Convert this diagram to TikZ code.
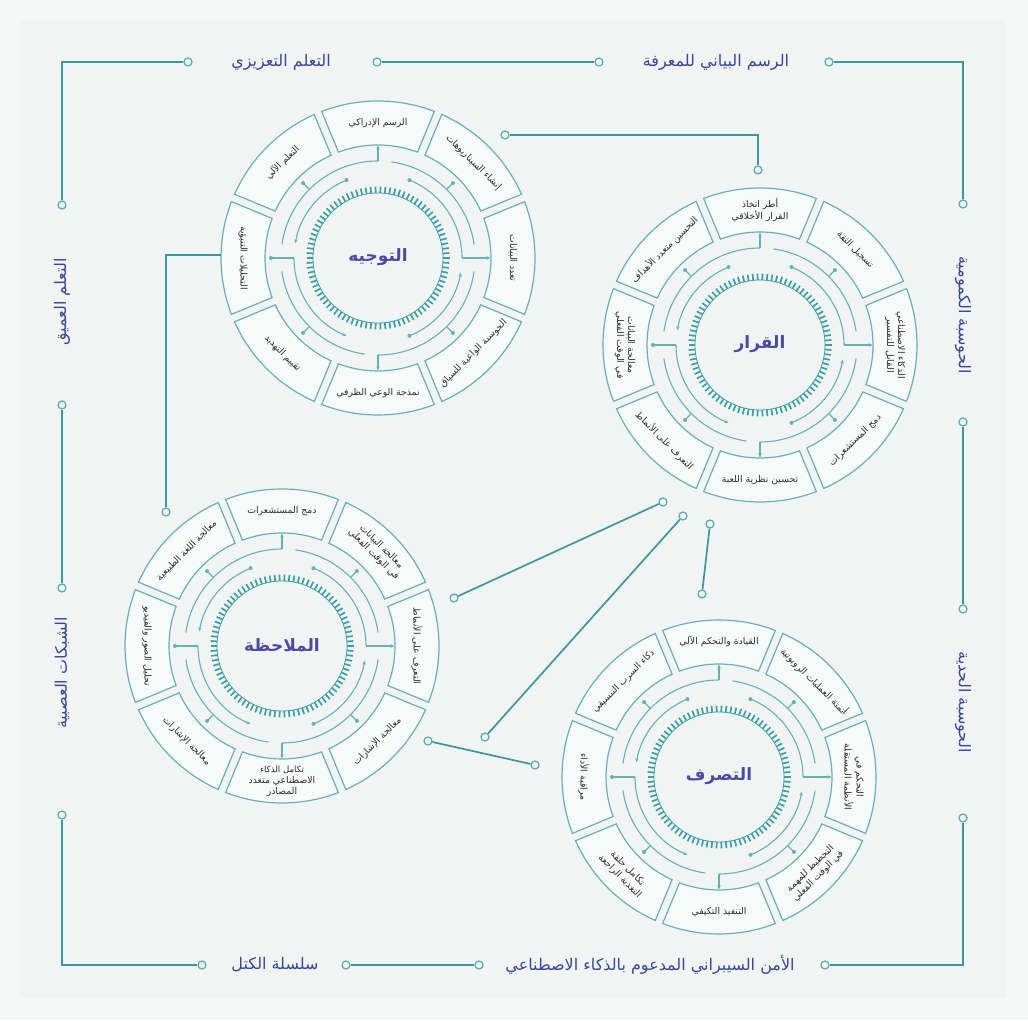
\documentclass[tikz,border=0pt]{standalone}
\usepackage{fontspec}
\usetikzlibrary{arrows.meta,calc}
\newfontfamily\arabicfont[Script=Arabic]{DejaVu Sans}
\TeXXeTstate=1
\newcommand\ar[1]{{\arabicfont\beginR #1\endR}}
\definecolor{bgout}{HTML}{F6F7F7}
\definecolor{bgin}{HTML}{F2F4F4}
\definecolor{frameteal}{HTML}{3B96A0}
\definecolor{dotteal}{HTML}{5EAEB6}
\definecolor{wheel}{HTML}{64B1B9}
\definecolor{gearc}{HTML}{3A9EA8}
\definecolor{sidetext}{HTML}{35479A}
\definecolor{titletext}{HTML}{4A4CA2}
\definecolor{boxtext}{HTML}{2E2E2E}
\tikzset{
  frame/.style={draw=frameteal, line width=1.9pt},
  link/.style={draw=frameteal, line width=1.7pt},
  jdot/.style={circle, draw=dotteal, line width=1.3pt, fill=bgin, minimum size=8pt, inner sep=0pt},
  side/.style={font=\fontsize{16}{18}\selectfont, text=sidetext, inner sep=1pt},
  boxs/.style={draw=wheel, line width=1.2pt, fill=white!45!bgin},
  wline/.style={draw=wheel, line width=1.1pt},
  warrow/.style={wline, -{Stealth[length=4pt,width=3.5pt]}},
  blabel/.style={font=\fontsize{9.3}{11}\selectfont, text=boxtext, align=center, inner sep=0pt},
  blabelm/.style={font=\fontsize{8.8}{10}\selectfont, text=boxtext, align=center, inner sep=0pt},
  wtitle/.style={font=\fontsize{17}{19}\selectfont\bfseries, text=titletext, inner sep=0pt},
}
\newcommand\wheel[9]{%
  \foreach \k in {0,...,7} {%
    \pgfmathsetmacro\th{90-45*\k}%
    \pgfmathsetmacro\aoA{\th+21.04}%
    \pgfmathsetmacro\aoB{\th-21.04}%
    \pgfmathsetmacro\aiA{\th+20.47}%
    \pgfmathsetmacro\aiB{\th-20.47}%
    \draw[boxs] (\aoA:157) arc[start angle=\aoA, end angle=\aoB, radius=157]
      -- (\aiB:113) arc[start angle=\aiB, end angle=\aiA, radius=113] -- cycle;
  }
  % middle arcs
  \draw[wline] (90:97) arc[start angle=90,end angle=172,radius=97];
  \draw[wline] (188:97) arc[start angle=188,end angle=262,radius=97];
  \draw[wline] (270:97) arc[start angle=270,end angle=352,radius=97];
  \draw[wline] (8:97) arc[start angle=8,end angle=82,radius=97];
  % radial connectors
  \draw[warrow] (90:97) -- (90:112.5);
  \draw[warrow] (270:97) -- (270:112.5);
  \draw[warrow] (0:84) -- (0:112.5);
  \draw[wline] (180:84) -- (180:107);
  \fill[wheel] (180:107) circle (2);
  \foreach \a in {45,135,225,315} {%
    \draw[wline] (\a:97) -- (\a:106);
    \fill[wheel] (\a:106) circle (2);
  }
  % inner arcs
  \draw[wline] (0:84) arc[start angle=0,end angle=68,radius=84];
  \fill[wheel] (68:84) circle (2);
  \draw[warrow] (112:84) arc[start angle=112,end angle=170,radius=84];
  \fill[wheel] (112:84) circle (2);
  \draw[warrow] (180:84) arc[start angle=180,end angle=248,radius=84];
  \draw[warrow] (292:84) arc[start angle=292,end angle=350,radius=84];
  \fill[wheel] (292:84) circle (2);
  % gear
  \draw[draw=gearc, line width=0.8pt] (0,0) circle (65);
  \foreach \a in {0,4,...,356} {\draw[draw=gearc, line width=1.7pt] (\a:65) -- (\a:71.5);}
  % title and labels
  \node[wtitle] (\pfx-t) at (0,1) {\ar{#1}};
  \node[blabel, rotate=0] (\pfx-l0) at (90:135) {#2};
  \node[blabel, rotate=-45] (\pfx-l1) at (45:135) {#3};
  \node[blabel, rotate=-90] (\pfx-l2) at (0:135) {#4};
  \node[blabel, rotate=45] (\pfx-l3) at (-45:135) {#5};
  \node[blabel, rotate=0] (\pfx-l4) at (-90:135) {#6};
  \node[blabel, rotate=-45] (\pfx-l5) at (-135:135) {#7};
  \node[blabel, rotate=-90] (\pfx-l6) at (180:135) {#8};
  \node[blabel, rotate=45] (\pfx-l7) at (135:135) {#9};
}
\begin{document}
\begin{tikzpicture}[x=1pt,y=1pt]
\useasboundingbox (0,0) rectangle (1028,1020);
\fill[bgout] (0,0) rectangle (1028,1020);
\fill[bgin] (20,22) rectangle (1006,1000);

% frame
\coordinate (cTL) at (62,958);
\coordinate (cTR) at (963,958);
\coordinate (cBL) at (62,55);
\coordinate (cBR) at (963,55);
\node[jdot] (t1) at (188,958) {};
\node[jdot] (t2) at (377,958) {};
\node[jdot] (t3) at (599,958) {};
\node[jdot] (t4) at (829,958) {};
\node[jdot] (l1) at (62,815) {};
\node[jdot] (l2) at (62,615) {};
\node[jdot] (l3) at (62,432) {};
\node[jdot] (l4) at (62,205) {};
\node[jdot] (r1) at (963,816) {};
\node[jdot] (r2) at (963,598) {};
\node[jdot] (r3) at (963,411) {};
\node[jdot] (r4) at (963,202) {};
\node[jdot] (b1) at (202,55) {};
\node[jdot] (b2) at (346,55) {};
\node[jdot] (b3) at (479,55) {};
\node[jdot] (b4) at (825,55) {};
\draw[frame] (t1) -- (cTL) -- (l1);
\draw[frame] (t2) -- (t3);
\draw[frame] (t4) -- (cTR) -- (r1);
\draw[frame] (l2) -- (l3);
\draw[frame] (r2) -- (r3);
\draw[frame] (l4) -- (cBL) -- (b1);
\draw[frame] (b2) -- (b3);
\draw[frame] (b4) -- (cBR) -- (r4);

\node[side] (s1) at (281,958) {\ar{التعلم التعزيزي}};
\node[side] (s2) at (716,958) {\ar{الرسم البياني للمعرفة}};
\node[side] (s3) at (275,55) {\ar{سلسلة الكتل}};
\node[side] (s4) at (650,55) {\ar{الأمن السيبراني المدعوم بالذكاء الاصطناعي}};
\node[side, rotate=90] (s5) at (62,718) {\ar{التعلم العميق}};
\node[side, rotate=90] (s6) at (62,347) {\ar{الشبكات العصبية}};
\node[side, rotate=-90] (s7) at (963,705) {\ar{الحوسبة الكمومية}};
\node[side, rotate=-90] (s8) at (963,318) {\ar{الحوسبة الحدية}};

% wheels
\begin{scope}[shift={(378,762)}]
\def\pfx{w1}
\wheel{التوجيه}{\ar{الرسم الإدراكي}}{\ar{إنشاء السيناريوهات}}{\ar{تعدد البيانات}}{\ar{الحوسبة الواعية للسياق}}{\ar{نمذجة الوعي الظرفي}}{\ar{تقييم التهديد}}{\ar{التحليلات التنبؤية}}{\ar{التعلم الآلي}}
\end{scope}
\begin{scope}[shift={(760,675)}]
\def\pfx{w2}
\wheel{القرار}{\ar{أطر اتخاذ}\\\ar{القرار الأخلاقي}}{\ar{تسجيل الثقة}}{\ar{الذكاء الاصطناعي}\\\ar{القابل للتفسير}}{\ar{دمج المستشعرات}}{\ar{تحسين نظرية اللعبة}}{\ar{التعرف على الأنماط}}{\ar{معالجة البيانات}\\\ar{في الوقت الفعلي}}{\ar{التحسين متعدد الأهداف}}
\end{scope}
\begin{scope}[shift={(282,374)}]
\def\pfx{w3}
\wheel{الملاحظة}{\ar{دمج المستشعرات}}{\ar{معالجة البيانات}\\\ar{في الوقت الفعلي}}{\ar{التعرف على الأنماط}}{\ar{معالجة الإشارات}}{\fontsize{8.6}{9.6}\selectfont\ar{تكامل الذكاء}\\\ar{الاصطناعي متعدد}\\\ar{المصادر}}{\ar{معالجة الإشارات}}{\ar{تحليل الصور والفيديو}}{\ar{معالجة اللغة الطبيعية}}
\end{scope}
\begin{scope}[shift={(719,243)}]
\def\pfx{w4}
\wheel{التصرف}{\ar{القيادة والتحكم الآلي}}{\ar{أتمتة العمليات الروبوتية}}{\ar{التحكم في}\\\ar{الأنظمة المستقلة}}{\ar{التخطيط للمهمة}\\\ar{في الوقت الفعلي}}{\ar{التنفيذ التكيفي}}{\ar{تكامل حلقة}\\\ar{التغذية الراجعة}}{\ar{مراقبة الأداء}}{\ar{ذكاء السرب التنسيقي}}
\end{scope}

% links between wheels
\node[jdot] (j1a) at (505,885) {};
\coordinate (j1k) at (758,885);
\node[jdot] (j1b) at (758,850) {};
\draw[link] (j1a) -- (j1k) -- (j1b);
\coordinate (j2s) at (221,765);
\coordinate (j2k) at (166,765);
\node[jdot] (j2b) at (166,508) {};
\draw[link] (j2s) -- (j2k) -- (j2b);
\node[jdot] (j3a) at (663,518) {};
\node[jdot] (j3b) at (454,422) {};
\draw[link] (j3a) -- (j3b);
\node[jdot] (j4a) at (683,504) {};
\node[jdot] (j4b) at (485,283) {};
\draw[link] (j4a) -- (j4b);
\node[jdot] (j5a) at (710,496) {};
\node[jdot] (j5b) at (702,426) {};
\draw[link] (j5a) -- (j5b);
\node[jdot] (j6a) at (428,279) {};
\node[jdot] (j6b) at (535,255) {};
\draw[link] (j6a) -- (j6b);
\end{tikzpicture}
\end{document}
